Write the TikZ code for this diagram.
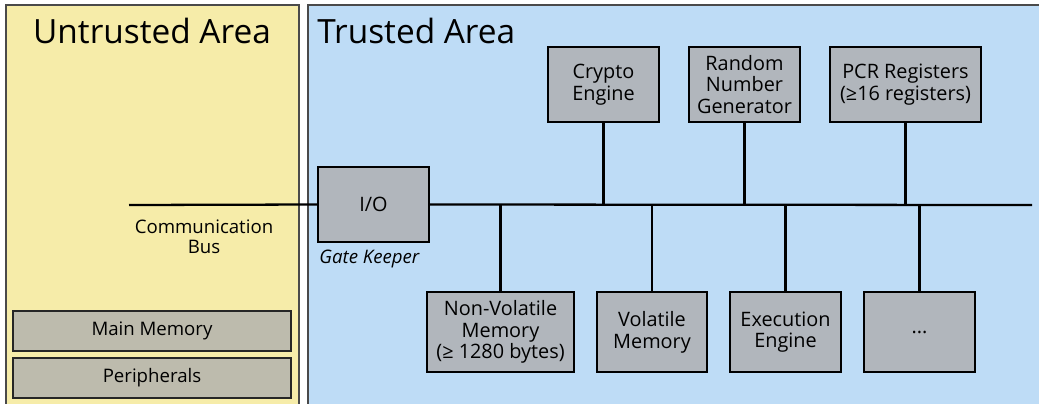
\documentclass[tikz,border=0pt]{standalone}
\usepackage{fontspec}
\setmainfont{Open Sans}
\definecolor{untrusted}{HTML}{F6ECA9}
\definecolor{trusted}{HTML}{BEDCF6}
\definecolor{unitgrey}{HTML}{B1B6BC}
\definecolor{memgrey}{HTML}{BDBBAD}
\definecolor{arealine}{HTML}{4A4A4A}
\newcommand{\boxfont}{\fontsize{11.3}{12.4}\selectfont}
\newcommand{\labelfont}{\fontsize{10.6}{11.6}\selectfont}
\newcommand{\titlefont}{\fontsize{19}{20}\selectfont}
\begin{document}
\begin{tikzpicture}[x=0.2mm,y=-0.2mm,
  unit/.style={draw=black,line width=0.7pt,fill=unitgrey,align=center,minimum width=22.2mm,minimum height=15mm,font=\boxfont},
  mem/.style={draw=black!85,line width=0.7pt,fill=memgrey,minimum width=55.6mm,minimum height=8mm,font=\labelfont},
  bus/.style={black,line width=1.3pt}]
\tikzstyle{every node}+=[inner sep=0pt]
\useasboundingbox (0,0) rectangle (1039,403);
\clip (0,0) rectangle (1039,403);
% areas
\draw [arealine,line width=0.8pt,fill=untrusted] (6,5) rectangle (299,420);
\draw [arealine,line width=0.8pt,fill=trusted] (308,5) rectangle (1060,420);
\draw (152,31) node (untrustedtitle) {\titlefont Untrusted Area};
\draw (317,31) node [anchor=west] (trustedtitle) {\titlefont Trusted Area};
% untrusted side
\draw (152,331) node [mem] (mainmem) {Main Memory};
\draw (152,378) node [mem] (periph) {Peripherals};
\draw (204,237) node [align=center,font=\labelfont] (buslabel) {Communication\\Bus};
% trusted units
\draw (373.5,204.5) node [unit] (io) {I/O};
\draw (io.south west) node [anchor=north west,xshift=1pt,yshift=-4pt,font=\labelfont\itshape] (gate) {Gate Keeper};
\draw (603.5,84.5) node [unit] (crypto) {Crypto\\Engine};
\draw (744.5,84.5) node [unit] (rng) {Random\\Number\\Generator};
\draw (905.5,84.5) node [unit,minimum width=30.2mm] (pcr) {PCR Registers\\(≥16 registers)};
\draw (500.5,332) node [unit,minimum width=29.4mm,minimum height=16mm] (nvmem) {Non-Volatile\\Memory\\(≥ 1280 bytes)};
\draw (652,332) node [unit,minimum width=22mm,minimum height=16mm] (vmem) {Volatile\\Memory};
\draw (785.5,332) node [unit,minimum height=16mm] (exec) {Execution\\Engine};
\draw (919.5,332) node [unit,minimum height=16mm] (more) {...};
% bus
\coordinate (busL) at (129,205);
\coordinate (busR) at (1032,205);
\draw [bus] (busL) -- (io.west);
\draw [bus] (io.east) -- (busR);
\draw [bus] (crypto.south) -- (crypto.south |- busR);
\draw [bus] (rng.south) -- (rng.south |- busR);
\draw [bus] (pcr.south) -- (pcr.south |- busR);
\draw [bus] (nvmem.north) -- (nvmem.north |- busR);
\draw [bus] (vmem.north) -- (vmem.north |- busR);
\draw [bus] (exec.north) -- (exec.north |- busR);
\draw [bus] (more.north) -- (more.north |- busR);
\end{tikzpicture}
\end{document}
